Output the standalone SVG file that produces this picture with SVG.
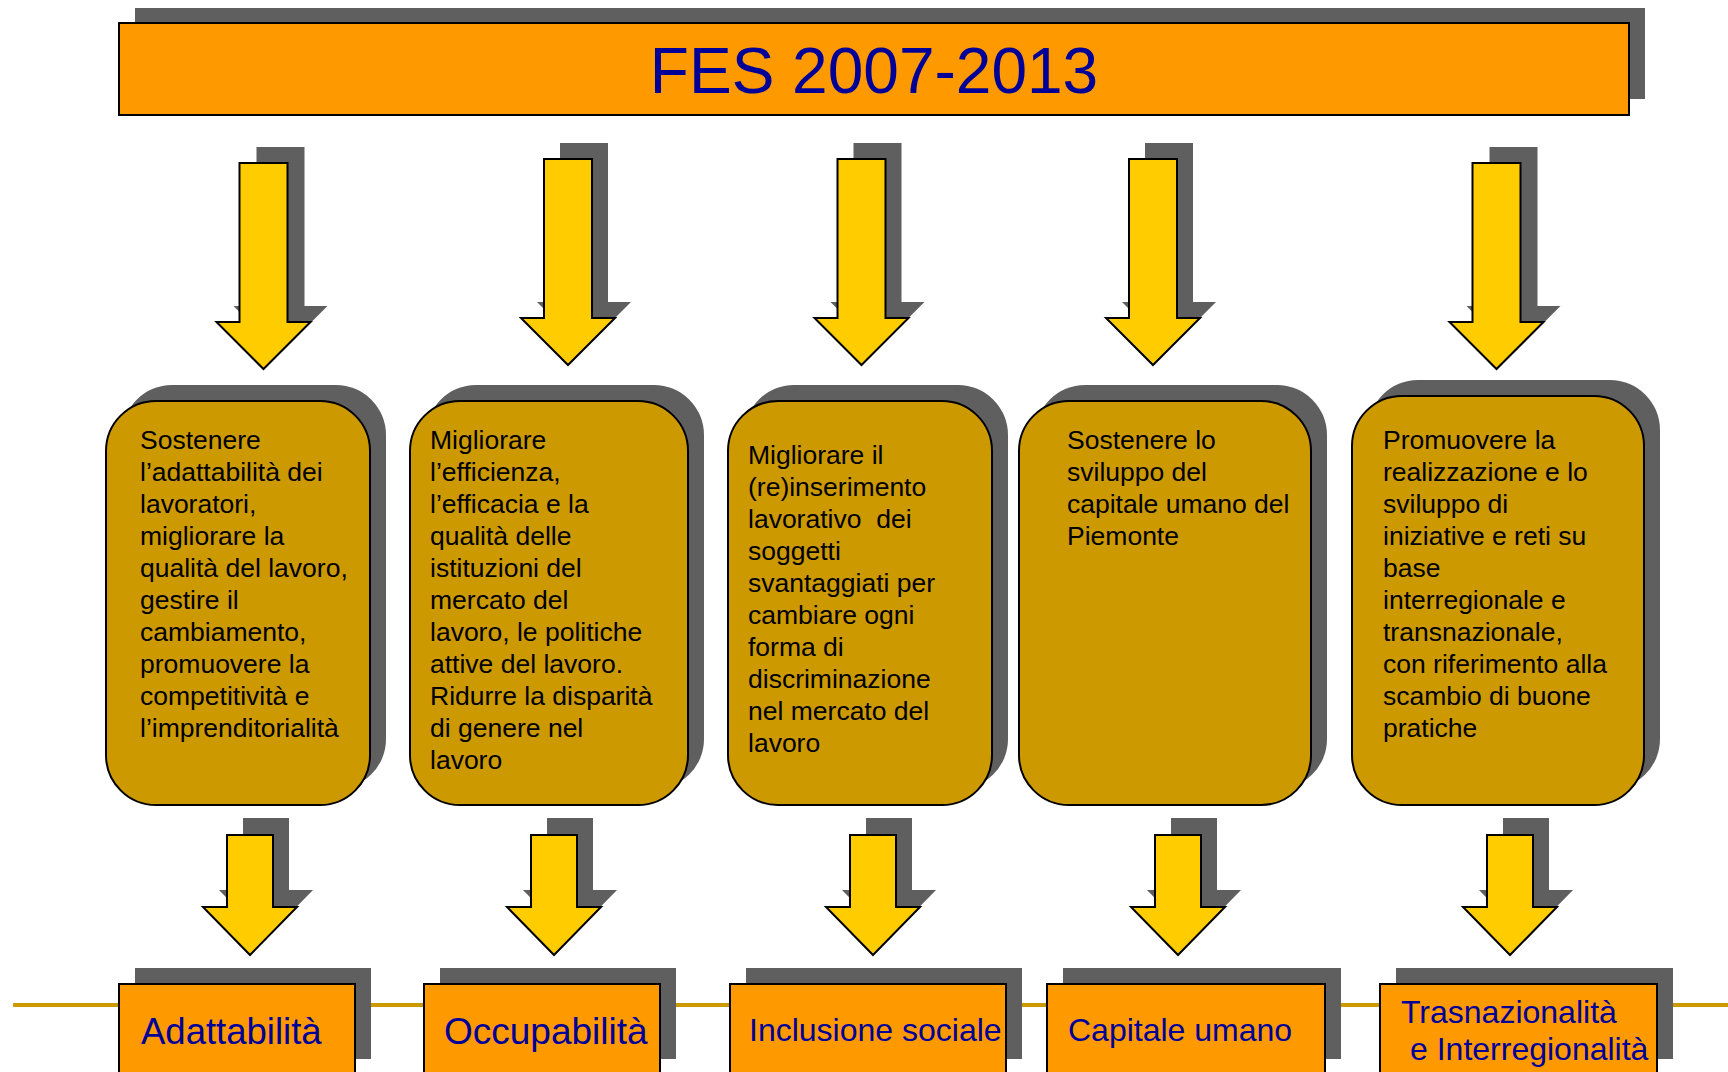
<svg xmlns="http://www.w3.org/2000/svg" xmlns:xlink="http://www.w3.org/1999/xlink" width="1728" height="1072" viewBox="0 0 1728 1072">
<style>
.sh{fill:#5f5f5f;stroke:none}
.orange{fill:#ff9900;stroke:#000;stroke-width:2}
.gold{fill:#cc9900;stroke:#000;stroke-width:2}
.arr{fill:#ffcc00;stroke:#000;stroke-width:2;stroke-linejoin:miter}
.title{font-family:"Liberation Sans",Arial,sans-serif;font-size:64px;fill:#000099}
.lab{font-family:"Liberation Sans",Arial,sans-serif;fill:#000099}
.body{font-family:"Liberation Sans",Arial,sans-serif;font-size:25.5px;fill:#000}
</style>
<defs>
<path id="aTop" d="M-24,0 H24 V159 H47 L0,206 L-47,159 H-24 Z"/>
<path id="aBot" d="M-23,0 H23 V72 H47 L0,120 L-47,72 H-23 Z"/>
</defs>
<rect width="1728" height="1072" fill="#fff"/>

<line x1="13" y1="1005" x2="1728" y2="1005" stroke="#cc9900" stroke-width="4"/>

<g id="title">
<rect class="sh" x="135" y="8" width="1510" height="91"/>
<rect class="orange" x="119" y="23" width="1510" height="92"/>
<text class="title" x="874" y="93" text-anchor="middle">FES 2007-2013</text>
</g>

<g id="connectors">
<use href="#aTop" class="sh" transform="translate(280.5,147)"/>
<use href="#aTop" class="arr" transform="translate(263.5,163)"/>
<use href="#aTop" class="sh" transform="translate(584,143)"/>
<use href="#aTop" class="arr" transform="translate(568,159)"/>
<use href="#aTop" class="sh" transform="translate(877.5,143)"/>
<use href="#aTop" class="arr" transform="translate(861.5,159)"/>
<use href="#aTop" class="sh" transform="translate(1169,143)"/>
<use href="#aTop" class="arr" transform="translate(1153,159)"/>
<use href="#aTop" class="sh" transform="translate(1513.5,147)"/>
<use href="#aTop" class="arr" transform="translate(1496.5,163)"/>

<use href="#aBot" class="sh" transform="translate(266,818)"/>
<use href="#aBot" class="arr" transform="translate(250,835)"/>
<use href="#aBot" class="sh" transform="translate(570,818)"/>
<use href="#aBot" class="arr" transform="translate(554,835)"/>
<use href="#aBot" class="sh" transform="translate(889,818)"/>
<use href="#aBot" class="arr" transform="translate(873,835)"/>
<use href="#aBot" class="sh" transform="translate(1194,818)"/>
<use href="#aBot" class="arr" transform="translate(1178,835)"/>
<use href="#aBot" class="sh" transform="translate(1526,818)"/>
<use href="#aBot" class="arr" transform="translate(1510,835)"/>
</g>

<g id="obj1">
<rect class="sh" x="122" y="385" width="264" height="404" rx="50"/>
<rect class="gold" x="106" y="401" width="264" height="404" rx="50"/>
<text class="body" transform="translate(140,449) scale(1.04,1)">
<tspan x="0" y="0">Sostenere</tspan>
<tspan x="0" dy="32">l’adattabilità dei</tspan>
<tspan x="0" dy="32">lavoratori,</tspan>
<tspan x="0" dy="32">migliorare la</tspan>
<tspan x="0" dy="32">qualità del lavoro,</tspan>
<tspan x="0" dy="32">gestire il</tspan>
<tspan x="0" dy="32">cambiamento,</tspan>
<tspan x="0" dy="32">promuovere la</tspan>
<tspan x="0" dy="32">competitività e</tspan>
<tspan x="0" dy="32">l’imprenditorialità</tspan>
</text>
</g>

<g id="obj2">
<rect class="sh" x="426" y="385" width="278" height="404" rx="50"/>
<rect class="gold" x="410" y="401" width="278" height="404" rx="50"/>
<text class="body" transform="translate(430,449) scale(1.04,1)">
<tspan x="0" y="0">Migliorare</tspan>
<tspan x="0" dy="32">l’efficienza,</tspan>
<tspan x="0" dy="32">l’efficacia e la</tspan>
<tspan x="0" dy="32">qualità delle</tspan>
<tspan x="0" dy="32">istituzioni del</tspan>
<tspan x="0" dy="32">mercato del</tspan>
<tspan x="0" dy="32">lavoro, le politiche</tspan>
<tspan x="0" dy="32">attive del lavoro.</tspan>
<tspan x="0" dy="32">Ridurre la disparità</tspan>
<tspan x="0" dy="32">di genere nel</tspan>
<tspan x="0" dy="32">lavoro</tspan>
</text>
</g>

<g id="obj3">
<rect class="sh" x="744" y="385" width="264" height="404" rx="50"/>
<rect class="gold" x="728" y="401" width="264" height="404" rx="50"/>
<text class="body" transform="translate(748,464) scale(1.04,1)" xml:space="preserve"><tspan x="0" y="0">Migliorare il</tspan><tspan x="0" dy="32">(re)inserimento</tspan><tspan x="0" dy="32">lavorativo  dei</tspan><tspan x="0" dy="32">soggetti</tspan><tspan x="0" dy="32">svantaggiati per</tspan><tspan x="0" dy="32">cambiare ogni</tspan><tspan x="0" dy="32">forma di</tspan><tspan x="0" dy="32">discriminazione</tspan><tspan x="0" dy="32">nel mercato del</tspan><tspan x="0" dy="32">lavoro</tspan></text>
</g>

<g id="obj4">
<rect class="sh" x="1035" y="385" width="292" height="404" rx="50"/>
<rect class="gold" x="1019" y="401" width="292" height="404" rx="50"/>
<text class="body" transform="translate(1067,449) scale(1.04,1)">
<tspan x="0" y="0">Sostenere lo</tspan>
<tspan x="0" dy="32">sviluppo del</tspan>
<tspan x="0" dy="32">capitale umano del</tspan>
<tspan x="0" dy="32">Piemonte</tspan>
</text>
</g>

<g id="obj5">
<rect class="sh" x="1368" y="380" width="292" height="409" rx="50"/>
<rect class="gold" x="1352" y="396" width="292" height="409" rx="50"/>
<text class="body" transform="translate(1383,449) scale(1.04,1)">
<tspan x="0" y="0">Promuovere la</tspan>
<tspan x="0" dy="32">realizzazione e lo</tspan>
<tspan x="0" dy="32">sviluppo di</tspan>
<tspan x="0" dy="32">iniziative e reti su</tspan>
<tspan x="0" dy="32">base</tspan>
<tspan x="0" dy="32">interregionale e</tspan>
<tspan x="0" dy="32">transnazionale,</tspan>
<tspan x="0" dy="32">con riferimento alla</tspan>
<tspan x="0" dy="32">scambio di buone</tspan>
<tspan x="0" dy="32">pratiche</tspan>
</text>
</g>

<g id="asse1">
<rect class="sh" x="135" y="968" width="236" height="91"/>
<rect class="orange" x="119" y="984" width="236" height="100"/>
<text class="lab" x="141" y="1044" font-size="36.5">Adattabilità</text>
</g>
<g id="asse2">
<rect class="sh" x="440" y="968" width="236" height="91"/>
<rect class="orange" x="424" y="984" width="236" height="100"/>
<text class="lab" x="444" y="1044" font-size="37">Occupabilità</text>
</g>
<g id="asse3">
<rect class="sh" x="746" y="968" width="276" height="91"/>
<rect class="orange" x="730" y="984" width="276" height="100"/>
<text class="lab" x="749" y="1041" font-size="32">Inclusione sociale</text>
</g>
<g id="asse4">
<rect class="sh" x="1063" y="968" width="278" height="91"/>
<rect class="orange" x="1047" y="984" width="278" height="100"/>
<text class="lab" x="1068" y="1041" font-size="32">Capitale umano</text>
</g>
<g id="asse5">
<rect class="sh" x="1396" y="968" width="277" height="91"/>
<rect class="orange" x="1380" y="984" width="277" height="100"/>
<text class="lab" x="1401" y="1023" font-size="32">Trasnazionalità</text>
<text class="lab" x="1410" y="1060" font-size="32">e Interregionalità</text>
</g>
</svg>
